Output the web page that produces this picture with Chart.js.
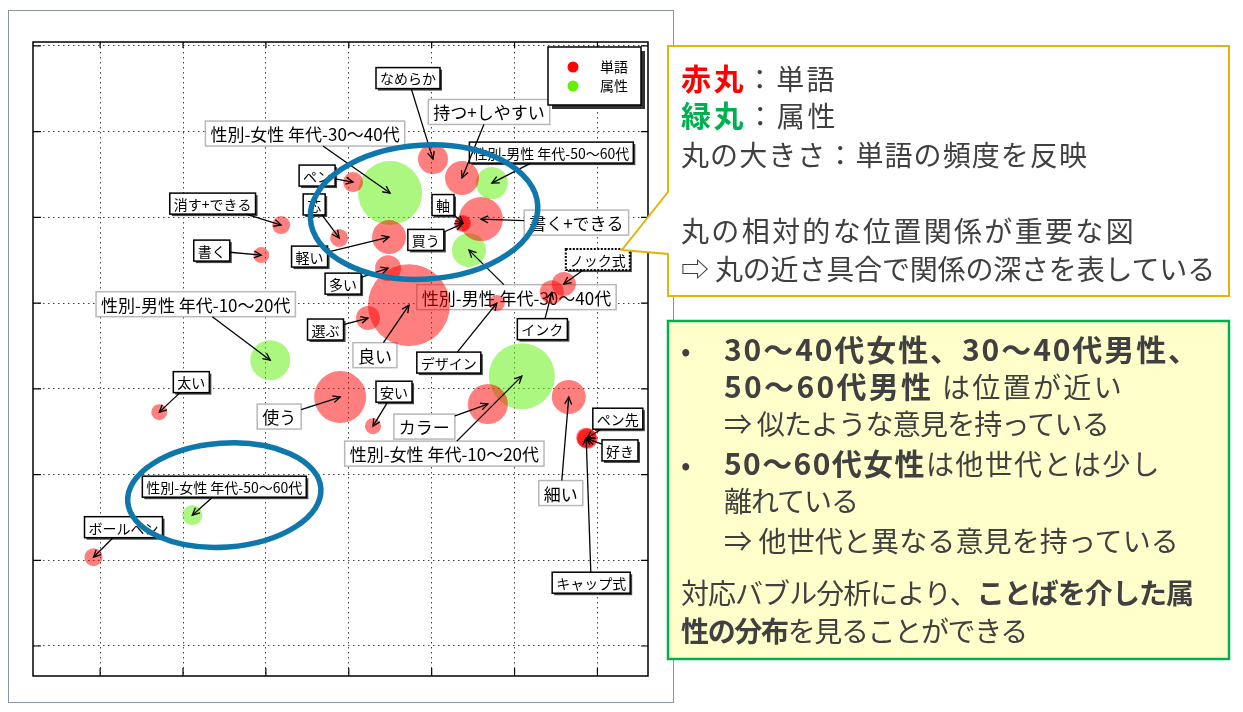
<!DOCTYPE html>
<html><head><meta charset="utf-8">
<script src="https://cdn.jsdelivr.net/npm/chart.js@4.4.1/dist/chart.umd.min.js"></script>
<style>
html,body{margin:0;padding:0;background:#fff;width:1243px;height:712px;overflow:hidden;font-family:"Noto Sans CJK JP","Noto Sans",sans-serif;}
#frame{position:absolute;left:8px;top:10px;width:666px;height:693px;border:1.5px solid #8b93aa;box-sizing:border-box;}
#wrap{position:absolute;left:-10px;top:0;width:702px;height:720px;}
svg{position:absolute;left:0;top:0;}
.t{position:absolute;white-space:nowrap;color:#404040;font-size:28px;line-height:36px;}
.t b{font-weight:700;}
.t b.big{font-size:30px;}
</style></head><body>
<div id="frame"></div>
<div id="wrap"><canvas id="c" width="702" height="720"></canvas></div>
<svg width="1243" height="712">
 <path d="M668,46 H1229 V296 H668 V254 L622,250 L668,192 Z" fill="#fff" stroke="#e5b40b" stroke-width="2"/>
 <rect x="668" y="321" width="561" height="338" fill="#ffffcc" stroke="#00b050" stroke-width="2.5"/>
</svg>
<div class="t" data-w="156" style="left:681px;top:59px"><b class="big" style="color:#ff0000">赤丸</b>：単語</div>
<div class="t" data-w="157" style="left:681px;top:96px"><b class="big" style="color:#00b050">緑丸</b>：属性</div>
<div class="t" data-w="407" style="left:681px;top:136px">丸の大きさ：単語の頻度を反映</div>
<div class="t" data-w="455" style="left:681px;top:212px">丸の相対的な位置関係が重要な図</div>
<div class="t" data-w="534" style="left:681px;top:250px">⇨ 丸の近さ具合で関係の深さを表している</div>

<div class="t" style="left:681px;top:331px">•</div>
<div class="t" data-w="476" style="left:724px;top:330px"><b class="big">30～40代女性、30～40代男性、</b></div>
<div class="t" data-w="400" style="left:724px;top:367px"><b class="big">50～60代男性</b> は位置が近い</div>
<div class="t" data-w="385" style="left:724px;top:405px">⇒ 似たような意見を持っている</div>
<div class="t" style="left:681px;top:445px">•</div>
<div class="t" data-w="437" style="left:724px;top:444px"><b class="big">50～60代女性</b>は他世代とは少し</div>
<div class="t" data-w="134" style="left:724px;top:482px">離れている</div>
<div class="t" data-w="455" style="left:724px;top:522px">⇒ 他世代と異なる意見を持っている</div>
<div class="t" data-w="512" style="left:681px;top:574px">対応バブル分析により、<b>ことばを介した属</b></div>
<div class="t" data-w="346" style="left:681px;top:612px"><b>性の分布</b>を見ることができる</div>

<script>
// ---- data ----
const seriesNames = ['単語', '属性'];
const wordLabels = ['なめらか','持つ+しやすい','ペン','消す+できる','芯','書く','軸','買う','書く+できる','軽い','多い','良い','選ぶ','デザイン','ノック式','インク','太い','使う','安い','カラー','細い','ペン先','好き','キャップ式','ボールペン'];
const wordX = [0.508,0.683,0.026,-0.408,-0.058,-0.528,0.689,0.685,0.797,0.243,0.237,0.363,0.116,0.893,1.297,1.225,-1.143,-0.052,0.146,0.839,1.327,1.436,1.440,1.432,-1.540];
const wordY = [0.840,0.730,0.706,0.455,0.380,0.280,0.467,0.462,0.490,0.385,0.204,-0.012,-0.087,0.000,0.111,0.064,-0.636,-0.548,-0.718,-0.589,-0.548,-0.788,-0.792,-0.785,-1.482];
const wordSize = [15,17,10,9,9,8,8,8,22,17,13,41,12,8,12,12,8,26,8,20,17,10,10,10,9];

const attrLabels = ['性別-女性 年代-30～40代','性別-男性 年代-50～60代','性別-男性 年代-30～40代','性別-男性 年代-10～20代','性別-女性 年代-10～20代','性別-女性 年代-50～60代'];
const attrX = [0.249,0.863,0.725,-0.474,1.044,-0.944];
const attrY = [0.642,0.700,0.309,-0.333,-0.426,-1.237];
const attrSize = [32,16,17,20,33,10];

const xGrid = [-1.5,-1,-0.5,0,0.5,1,1.5];
const yGrid = [-2,-1.5,-1,-0.5,0,0.5,1,1.5];

// ---- layout of callout labels (pixel offsets of label box centre from its bubble; style) ----
const wordLabelLayout = [[-25,-81,'b'],[27,-66,'g'],[-36,-6.5,'b'],[-68.5,-21.5,'b'],[-25,-33.5,'b'],[-49.5,-4.5,'b'],[-20,-18,'b'],[-36.5,16,'b'],[95.5,3.5,'g'],[-79.5,19.5,'b'],[-45,15.5,'b'],[-34,50,'g'],[-42.5,11.5,'b'],[-48,59.5,'b'],[34,-24.5,'d'],[-9.5,37,'b'],[32,-30,'b'],[-61,19.5,'g'],[21,-34.5,'b'],[-63.5,22.5,'g'],[-8,96,'g'],[31,-19.5,'b'],[32.5,11.5,'b'],[5,145,'b'],[30,-30,'b']];
const attrLabelLayout = [[-85,-59.5,'g'],[59.5,-30.5,'b'],[47.5,47,'g'],[-74.5,-56,'g'],[-77.5,77.5,'g'],[32,-28.5,'b']];
// highlight ellipses (data-space centre and radii, rotation)
const ellipses = [{x:0.454,y:0.531,rx:0.687,ry:0.391,rot:-0.06},{x:-0.751,y:-1.120,rx:0.584,ry:0.303,rot:-0.07}];

const FONT = '"Noto Sans CJK JP","Noto Sans",sans-serif';
const RED = 'rgba(255,0,0,0.5)', GREEN = 'rgba(90,240,0,0.5)';

// fit the right-hand text lines to their widths
document.querySelectorAll('.t[data-w]').forEach(el=>{
  const n=[...el.textContent].length;
  const w=el.getBoundingClientRect().width;
  el.style.letterSpacing=((+el.dataset.w - w)/n)+'px';
});

function labelBoxes(chart){
  const xs = chart.scales.x, ys = chart.scales.y, ctx = chart.ctx;
  const out = [];
  const add = (labels, X, Y, layout) => {
    labels.forEach((t,i)=>{
      const px = xs.getPixelForValue(X[i]), py = ys.getPixelForValue(Y[i]);
      const [dx,dy,st] = layout[i];
      const fs = st==='g'?17:14;
      ctx.font = fs+'px '+FONT;
      const w = ctx.measureText(t).width + (st==='g'?10:8);
      const h = st==='g'?25:21;
      out.push({t,px,py,cx:px+dx,cy:py+dy,w,h,st,fs});
    });
  };
  add(wordLabels, wordX, wordY, wordLabelLayout);
  add(attrLabels, attrX, attrY, attrLabelLayout);
  return out;
}

const anno = {
  id:'anno',
  beforeDatasetsDraw(chart){
    const ctx = chart.ctx, a = chart.chartArea, xs = chart.scales.x, ys = chart.scales.y;
    ctx.save();
    ctx.strokeStyle='#000'; ctx.lineWidth=1.5;
    ctx.strokeRect(a.left,a.top,a.right-a.left,a.bottom-a.top);
    ctx.lineWidth=1.2;
    xGrid.forEach(v=>{const p=xs.getPixelForValue(v);
      ctx.beginPath();ctx.moveTo(p,a.bottom);ctx.lineTo(p,a.bottom-8);ctx.moveTo(p,a.top);ctx.lineTo(p,a.top+6);ctx.stroke();});
    yGrid.forEach(v=>{const p=ys.getPixelForValue(v);
      ctx.beginPath();ctx.moveTo(a.left,p);ctx.lineTo(a.left+8,p);ctx.moveTo(a.right,p);ctx.lineTo(a.right-7,p);ctx.stroke();});
    ctx.textAlign='center'; ctx.textBaseline='middle';
    labelBoxes(chart).forEach(b=>{
      const x=b.cx-b.w/2, y=b.cy-b.h/2;
      if(b.st!=='g'){ctx.fillStyle='#444';ctx.fillRect(x+2,y+2,b.w,b.h);}
      ctx.fillStyle='#fff'; ctx.fillRect(x,y,b.w,b.h);
      if(b.st==='g'){ctx.strokeStyle='#b8b8b8';ctx.lineWidth=1.5;ctx.setLineDash([]);}
      else if(b.st==='d'){ctx.strokeStyle='#000';ctx.lineWidth=2;ctx.setLineDash([2,1.5]);}
      else {ctx.strokeStyle='#000';ctx.lineWidth=1.5;ctx.setLineDash([]);}
      ctx.strokeRect(x,y,b.w,b.h); ctx.setLineDash([]);
      ctx.fillStyle='#000'; ctx.font=b.fs+'px '+FONT;
      ctx.fillText(b.t,b.cx,b.cy+1);
    });
    ctx.restore();
  },
  afterDatasetsDraw(chart){
    const ctx = chart.ctx, a = chart.chartArea, xs = chart.scales.x, ys = chart.scales.y;
    ctx.save();
    ctx.strokeStyle='#000'; ctx.lineWidth=1.3;
    labelBoxes(chart).forEach(b=>{
      const dx=b.px-b.cx, dy=b.py-b.cy;
      let t=1;
      if(dx!==0) t=Math.min(t,(b.w/2)/Math.abs(dx));
      if(dy!==0) t=Math.min(t,(b.h/2)/Math.abs(dy));
      const sx=b.cx+dx*t, sy=b.cy+dy*t;
      ctx.beginPath(); ctx.moveTo(sx,sy); ctx.lineTo(b.px,b.py); ctx.stroke();
      const ang=Math.atan2(b.py-sy,b.px-sx), L=8, s=0.45;
      ctx.beginPath();
      ctx.moveTo(b.px-L*Math.cos(ang-s),b.py-L*Math.sin(ang-s));
      ctx.lineTo(b.px,b.py);
      ctx.lineTo(b.px-L*Math.cos(ang+s),b.py-L*Math.sin(ang+s));
      ctx.stroke();
    });
    ctx.strokeStyle='#0e78ad'; ctx.lineWidth=5.5;
    ellipses.forEach(e=>{
      const cx=xs.getPixelForValue(e.x), cy=ys.getPixelForValue(e.y);
      const rx=Math.abs(xs.getPixelForValue(e.x+e.rx)-cx), ry=Math.abs(ys.getPixelForValue(e.y+e.ry)-cy);
      ctx.beginPath(); ctx.ellipse(cx,cy,rx,ry,e.rot,0,Math.PI*2); ctx.stroke();
    });
    // legend
    const lx=a.right-100, ly=a.top+5, lw=93, lh=58;
    ctx.fillStyle='#333'; ctx.fillRect(lx+4,ly+4,lw,lh);
    ctx.fillStyle='#fff'; ctx.fillRect(lx,ly,lw,lh);
    ctx.strokeStyle='#000'; ctx.lineWidth=1.5; ctx.strokeRect(lx,ly,lw,lh);
    const lc=['rgb(255,0,0)','rgb(100,240,0)'];
    ctx.font='14px '+FONT; ctx.textAlign='left'; ctx.textBaseline='middle';
    seriesNames.forEach((n,i)=>{
      const yy=ly+20+i*19;
      ctx.fillStyle=lc[i]; ctx.beginPath(); ctx.arc(lx+25,yy,5.5,0,Math.PI*2); ctx.fill();
      ctx.fillStyle='#000'; ctx.fillText(n,lx+52,yy);
    });
    ctx.restore();
  }
};

new Chart(document.getElementById('c'), {
  type:'bubble',
  data:{datasets:[
    {label:seriesNames[0], data:wordX.map((x,i)=>({x,y:wordY[i],r:wordSize[i]})), backgroundColor:RED, borderWidth:0, hoverBorderWidth:0, hoverRadius:0, clip:false},
    {label:seriesNames[1], data:attrX.map((x,i)=>({x,y:attrY[i],r:attrSize[i]})), backgroundColor:GREEN, borderWidth:0, hoverBorderWidth:0, hoverRadius:0, clip:false}
  ]},
  options:{
    responsive:false, animation:false, devicePixelRatio:1,
    layout:{padding:{left:43,top:42,right:44,bottom:44}},
    plugins:{legend:{display:false},tooltip:{enabled:false}},
    events:[],
    scales:{
      x:{type:'linear',min:-1.905,max:1.805,
         afterBuildTicks:s=>{s.ticks=xGrid.map(v=>({value:v}));},
         ticks:{display:false}, border:{display:false,dash:[1.5,3.5]},
         grid:{drawTicks:false,color:'#444',lineWidth:1}},
      y:{type:'linear',min:-2.175,max:1.523,
         afterBuildTicks:s=>{s.ticks=yGrid.map(v=>({value:v}));},
         ticks:{display:false}, border:{display:false,dash:[1.5,3.5]},
         grid:{drawTicks:false,color:'#444',lineWidth:1}}
    }
  },
  plugins:[anno]
});
</script>
</body></html>
